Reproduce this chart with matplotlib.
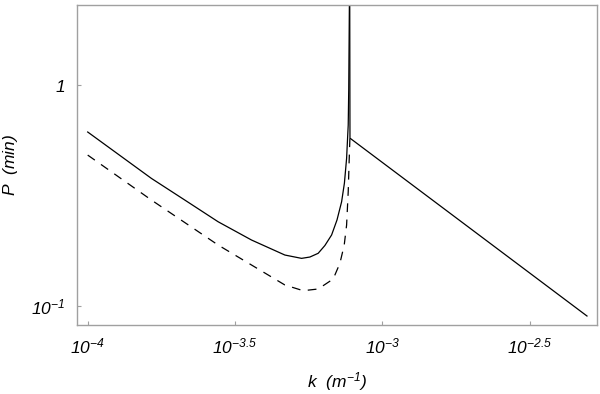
import matplotlib
matplotlib.use('Agg')
import matplotlib.pyplot as plt

# values (log-log)
solid_left_k = [1.000e-4, 1.645e-4, 2.135e-4, 2.770e-4, 3.596e-4, 4.666e-4, 5.316e-4,
                5.674e-4, 6.053e-4, 6.378e-4, 6.722e-4, 7.011e-4, 7.269e-4, 7.430e-4,
                7.558e-4, 7.654e-4, 7.685e-4, 7.708e-4, 7.726e-4]
solid_left_P = [0.613, 0.378, 0.3017, 0.2406, 0.1989, 0.1701, 0.1643,
                0.1666, 0.1732, 0.1878, 0.2096, 0.245, 0.2963, 0.360,
                0.4659, 0.659, 0.949, 1.598, 2.42]

solid_right_k = [7.745e-4, 7.760e-4, 4.943e-3]
solid_right_P = [2.5, 0.575, 0.0901]

dashed_k = [1.000e-4, 1.645e-4, 2.770e-4, 3.596e-4, 4.666e-4, 5.384e-4, 6.053e-4,
            6.806e-4, 7.173e-4, 7.419e-4, 7.558e-4, 7.654e-4, 7.715e-4, 7.756e-4]
dashed_P = [0.482, 0.3017, 0.1888, 0.1533, 0.1245, 0.1173, 0.1194,
            0.1325, 0.1561, 0.1888, 0.2325, 0.329, 0.4659, 0.574]

xticks = [1e-4, 10**-3.5, 1e-3, 10**-2.5]
xticklabels = [r'$10^{-4}$', r'$10^{-3.5}$', r'$10^{-3}$', r'$10^{-2.5}$']
yticks = [1, 0.1]
yticklabels = [r'$1$', r'$10^{-1}$']

plt.rcParams['mathtext.fontset'] = 'custom'
plt.rcParams['mathtext.it'] = 'Liberation Sans:italic'
plt.rcParams['mathtext.rm'] = 'Liberation Sans:italic'
plt.rcParams['mathtext.default'] = 'it'
plt.rcParams['font.family'] = ['Liberation Sans', 'DejaVu Sans']

fig = plt.figure(figsize=(6, 3.94), dpi=100)
ax = fig.add_axes([0.128, 0.175, 0.867, 0.812])

ax.plot(solid_left_k, solid_left_P, color='black', lw=0.9)
ax.plot(solid_right_k, solid_right_P, color='black', lw=0.9)
ax.plot(dashed_k, dashed_P, color='black', lw=0.9, linestyle=(0, (7, 6)))

ax.set_xscale('log')
ax.set_yscale('log')
ax.set_xlim(10**-4.037, 10**-2.272)
ax.set_ylim(0.082, 2.30)
ax.minorticks_off()
ax.set_xticks(xticks, xticklabels)
ax.set_yticks(yticks, yticklabels)

for s in ax.spines.values():
    s.set_color('#a0a0a0')
    s.set_linewidth(1.0)
ax.tick_params(direction='in', length=3, width=0.8, color='#a0a0a0',
               labelsize=12.5, pad=8)

ax.set_xlabel(r'$k\ \ (m^{-1})$', fontsize=12.5)
ax.set_ylabel(r'$P\ \ (min)$', fontsize=12.5)
ax.xaxis.set_label_coords(0.5, -0.14)
ax.yaxis.set_label_coords(-0.11, 0.5)

fig.savefig('out.png', dpi=100)
